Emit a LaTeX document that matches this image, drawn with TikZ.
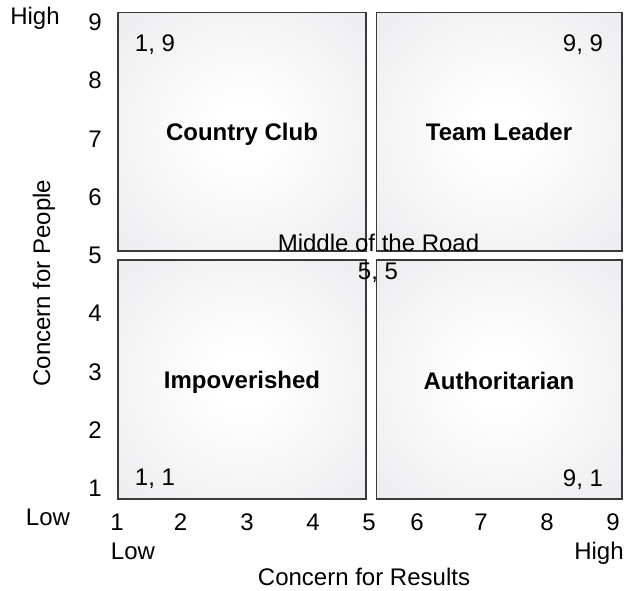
\documentclass[tikz,border=0pt]{standalone}
\usepackage{fontspec}
\setmainfont{Liberation Sans}
\definecolor{quadedge}{RGB}{58,58,60}
\definecolor{quadgray}{RGB}{226,227,230}
\pgfdeclareradialshading{quadfade}{\pgfpoint{0bp}{0bp}}{%
  color(0bp)=(white); color(6bp)=(white); color(50bp)=(quadgray); color(100bp)=(quadgray)}
\begin{document}
\begin{tikzpicture}[x=0.5pt,y=-0.5pt,font=\fontsize{12}{14}\selectfont,
  quad/.style={draw=quadedge,line width=0.7pt,shading=quadfade},
  lbl/.style={anchor=base,inner sep=0pt},
  style/.style={lbl,font=\fontsize{12}{14}\selectfont\bfseries}]
  \useasboundingbox (0,0) rectangle (626,590);
  % the four quadrants
  \draw[quad] (118,12.5) rectangle (366,251);
  \draw[quad] (376.5,12.5) rectangle (622,251);
  \draw[quad] (118,260) rectangle (366,499);
  \draw[quad] (376.5,260) rectangle (622,499);
  % management styles
  \node[style] (country) at (242,140) {Country Club};
  \node[style] (team) at (499,140) {Team Leader};
  \node[style] (impov) at (242,388) {Impoverished};
  \node[style] (author) at (499,389) {Authoritarian};
  % corner scores
  \node[lbl] (c19) at (155,51) {1, 9};
  \node[lbl] (c99) at (583,51) {9, 9};
  \node[lbl] (c11) at (155,485) {1, 1};
  \node[lbl] (c91) at (583,486) {9, 1};
  % centre
  \node[lbl] (mid) at (378.5,251) {Middle of the Road};
  \node[lbl] (mid55) at (378,279) {5, 5};
  % people axis
  \node[lbl] (y9) at (95,30.5) {9};
  \node[lbl] (y8) at (95,88.75) {8};
  \node[lbl] (y7) at (95,147) {7};
  \node[lbl] (y6) at (95,205.25) {6};
  \node[lbl] (y5) at (95,263.5) {5};
  \node[lbl] (y4) at (95,321.75) {4};
  \node[lbl] (y3) at (95,380) {3};
  \node[lbl] (y2) at (95,438.25) {2};
  \node[lbl] (y1) at (95,496.5) {1};
  \node[lbl] (yHigh) at (35,24) {High};
  \node[lbl] (yLow) at (48,525) {Low};
  \node[lbl,rotate=90] (yTitle) at (50,283) {Concern for People};
  % results axis
  \node[lbl] (x1) at (117,530) {1};
  \node[lbl] (x2) at (180.5,530) {2};
  \node[lbl] (x3) at (247,530) {3};
  \node[lbl] (x4) at (313,530) {4};
  \node[lbl] (x5) at (369,530) {5};
  \node[lbl] (x6) at (417,530) {6};
  \node[lbl] (x7) at (481,530) {7};
  \node[lbl] (x8) at (547,530) {8};
  \node[lbl] (x9) at (613,530) {9};
  \node[lbl] (xLow) at (133,559) {Low};
  \node[lbl] (xHigh) at (599,559) {High};
  \node[lbl] (xTitle) at (364,585) {Concern for Results};
\end{tikzpicture}
\end{document}
